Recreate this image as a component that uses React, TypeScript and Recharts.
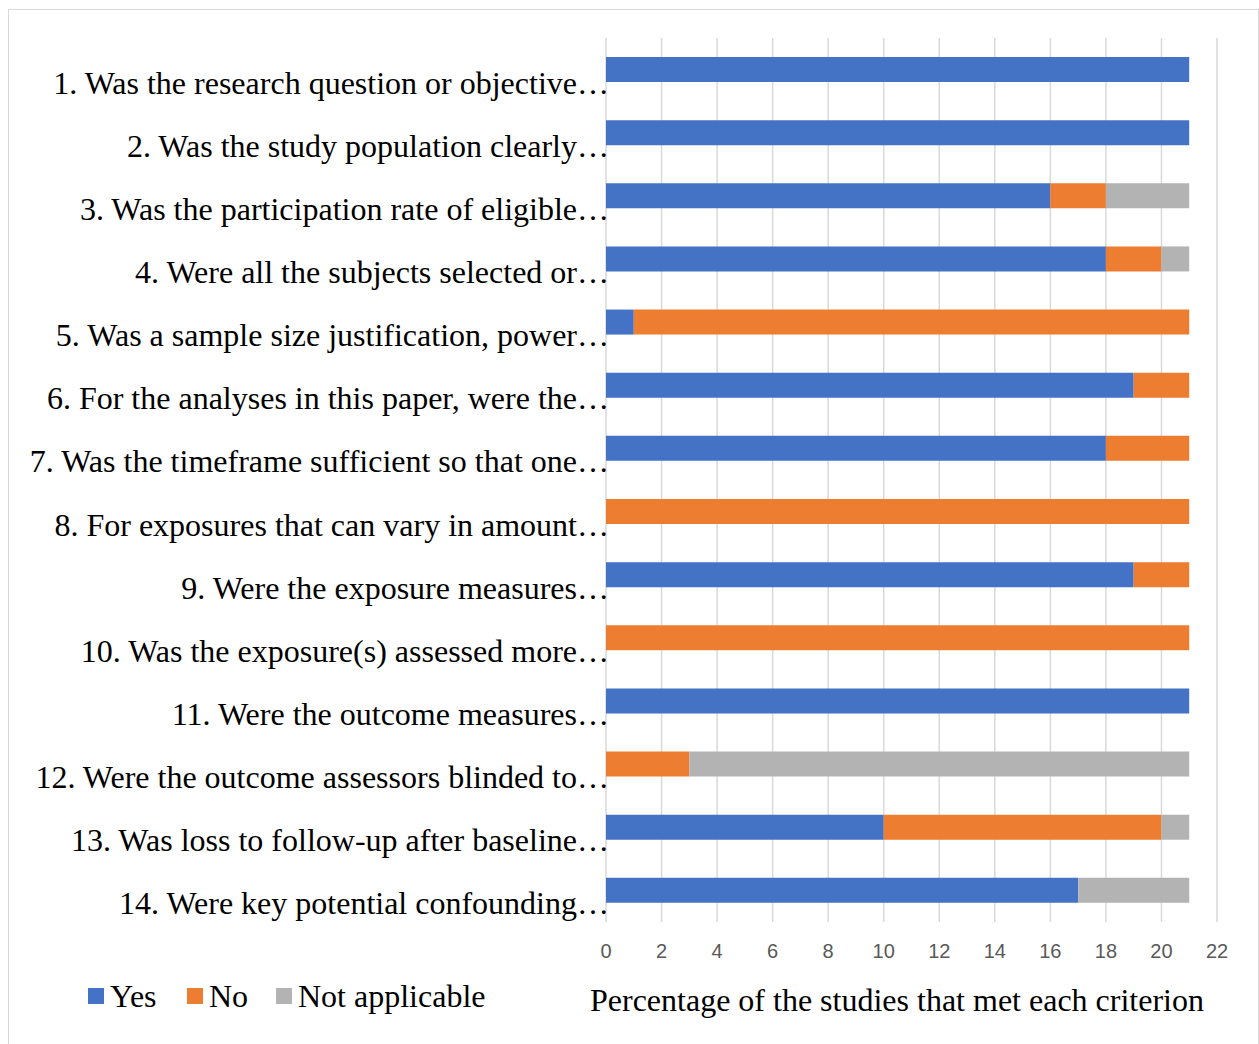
import React from "react";
import { BarChart, Bar, XAxis, YAxis, CartesianGrid } from "recharts";

const criteria = [
  "1. Was the research question or objective…",
  "2. Was the study population clearly…",
  "3. Was the participation rate of eligible…",
  "4. Were all the subjects selected or…",
  "5. Was a sample size justification, power…",
  "6. For the analyses in this paper, were the…",
  "7. Was the timeframe sufficient so that one…",
  "8. For exposures that can vary in amount…",
  "9. Were the exposure measures…",
  "10. Was the exposure(s) assessed more…",
  "11. Were the outcome measures…",
  "12. Were the outcome assessors blinded to…",
  "13. Was loss to follow-up after baseline…",
  "14. Were key potential confounding…",
];
const yes = [21, 21, 16, 18, 1, 19, 18, 0, 19, 0, 21, 0, 10, 17];
const no = [0, 0, 2, 2, 20, 2, 3, 21, 2, 21, 0, 3, 10, 0];
const notApplicable = [0, 0, 3, 1, 0, 0, 0, 0, 0, 0, 0, 18, 1, 4];
const xTicks = [0, 2, 4, 6, 8, 10, 12, 14, 16, 18, 20, 22];

const data = criteria.map((c, i) => ({
  name: c,
  yes: yes[i],
  no: no[i],
  na: notApplicable[i],
}));

const serif = "'Liberation Serif', 'Times New Roman', serif";

const legendItems = [
  { label: "Yes", color: "#4472C4", x: 88 },
  { label: "No", color: "#ED7D31", x: 187 },
  { label: "Not applicable", color: "#B3B3B3", x: 276 },
];

const CategoryTick = (props: any) => {
  const { x, y, payload } = props;
  return (
    <text x={x + 3} y={y} dy={13} textAnchor="end" dominantBaseline="central" fill="#000" fontSize={32} fontFamily={serif}>
      {payload.value}
    </text>
  );
};

export default function App() {
  return (
    <div style={{ position: "absolute", left: 0, top: 0, width: 1259, height: 1044, background: "#fff" }}>
      <div
        style={{
          position: "absolute",
          left: 8,
          top: 9,
          width: 1251,
          height: 1040,
          border: "1px solid #d9d9d9",
          boxSizing: "border-box",
        }}
      />
      <BarChart
        width={1259}
        height={1044}
        data={data}
        layout="vertical"
        margin={{ top: 38, right: 42, left: 0, bottom: 72 }}
        barSize={25}
        style={{ position: "absolute", left: 0, top: 0 }}
      >
        <CartesianGrid horizontal={false} stroke="#d9d9d9" strokeWidth={1.5} />
        <XAxis
          type="number"
          domain={[0, 22]}
          ticks={xTicks}
          interval={0}
          axisLine={false}
          tickLine={false}
          tickMargin={16}
          height={50}
          tick={{ fill: "#595959", fontSize: 20, fontFamily: "'Liberation Sans', Arial, sans-serif" }}
        />
        <YAxis
          type="category"
          dataKey="name"
          width={606}
          axisLine={false}
          tickLine={false}
          tickSize={0}
          tickMargin={0}
          interval={0}
          tick={<CategoryTick />}
        />
        <Bar dataKey="yes" stackId="a" fill="#4472C4" isAnimationActive={false} />
        <Bar dataKey="no" stackId="a" fill="#ED7D31" isAnimationActive={false} />
        <Bar dataKey="na" stackId="a" fill="#B3B3B3" isAnimationActive={false} />
      </BarChart>
      {legendItems.map((it) => (
        <div
          key={it.label}
          style={{
            position: "absolute",
            left: it.x,
            top: 976,
            height: 40,
            display: "flex",
            alignItems: "center",
            fontFamily: serif,
            fontSize: 32,
            color: "#000",
            whiteSpace: "nowrap",
          }}
        >
          <span style={{ display: "inline-block", width: 16, height: 16, background: it.color, marginRight: 6 }} />
          <span>{it.label}</span>
        </div>
      ))}
      <div
        style={{
          position: "absolute",
          left: 590,
          top: 980,
          height: 40,
          lineHeight: "40px",
          fontFamily: serif,
          fontSize: 32,
          color: "#000",
          whiteSpace: "nowrap",
        }}
      >
        Percentage of the studies that met each criterion
      </div>
    </div>
  );
}
